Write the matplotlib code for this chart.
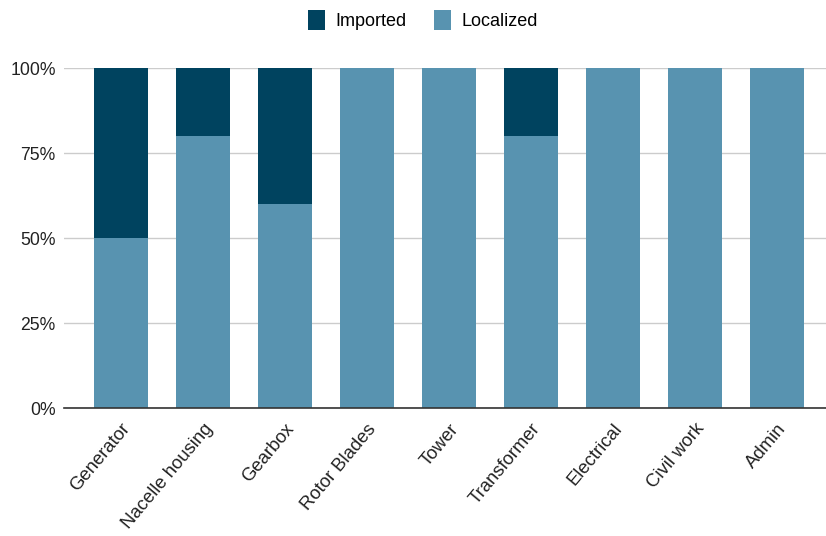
import matplotlib.pyplot as plt
from matplotlib.patches import Patch
from matplotlib.ticker import FixedLocator

categories = ['Generator', 'Nacelle housing', 'Gearbox', 'Rotor Blades', 'Tower',
              'Transformer', 'Electrical', 'Civil work', 'Admin']
localized = [50, 80, 60, 100, 100, 80, 100, 100, 100]
imported = [50, 20, 40, 0, 0, 20, 0, 0, 0]
yticks = [0, 25, 50, 75, 100]

c_imp = '#00435f'
c_loc = '#5893b0'

plt.rcParams['font.family'] = ['Liberation Sans', 'DejaVu Sans']

fig = plt.figure(figsize=(8.26, 5.36), dpi=100)
ax = fig.add_axes([0.0775, 0.2388, 0.9225, 0.6343])

x = list(range(len(categories)))
ax.bar(x, localized, width=0.66, color=c_loc, zorder=3)
ax.bar(x, imported, width=0.66, bottom=localized, color=c_imp, zorder=3)

ax.set_xlim(-0.695, 8.6)
ax.set_ylim(0, 100)
ax.yaxis.set_major_locator(FixedLocator(yticks))
ax.set_yticklabels(['%d%%' % v for v in yticks], fontsize=12.7, color='#222222')
ax.set_xticks(x)
ax.set_xticklabels(categories, rotation=50, ha='right', rotation_mode='anchor',
                   fontsize=13.3, color='#222222')
ax.tick_params(axis='y', length=0, pad=6)
ax.tick_params(axis='x', length=0, pad=9)

ax.grid(axis='y', color='#cccccc', linewidth=1, zorder=0)
for s in ['top', 'right', 'left']:
    ax.spines[s].set_visible(False)
ax.spines['bottom'].set_color('#333333')
ax.spines['bottom'].set_linewidth(1.2)
ax.spines['bottom'].set_zorder(4)

handles = [Patch(facecolor=c_imp, label='Imported'), Patch(facecolor=c_loc, label='Localized')]
fig.legend(handles=handles, loc='center', bbox_to_anchor=(0.512, 0.962), ncol=2,
           frameon=False, fontsize=13, handlelength=0.95, handleheight=1.3,
           handletextpad=0.6, columnspacing=1.5)

fig.savefig('out.png', dpi=100)
